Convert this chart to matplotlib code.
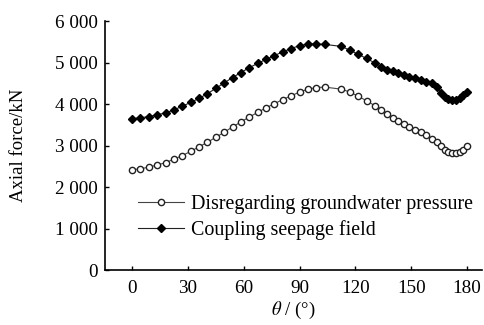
import matplotlib
matplotlib.use("Agg")
import matplotlib.pyplot as plt
from matplotlib.ticker import FuncFormatter

theta = [0, 4.5, 9, 13.5, 18, 22.5, 27, 31.5, 36, 40.5, 45, 49.5, 54, 58.5, 63, 67.5,
         72, 76.5, 81, 85.5, 90, 94.5, 99, 103.5, 112.5, 117, 121.5, 126, 130.5,
         134, 137, 140, 143, 146, 149, 152, 155, 158, 161, 164, 166, 168, 170,
         172, 174, 176, 178, 180]
coupling = [3650, 3670, 3700, 3740, 3790, 3860, 3950, 4040, 4140, 4250, 4380, 4510,
            4640, 4760, 4880, 4980, 5080, 5170, 5260, 5340, 5410, 5450, 5450, 5440,
            5390, 5300, 5200, 5100, 4990, 4900, 4830, 4790, 4750, 4700, 4660, 4620,
            4580, 4540, 4500, 4420, 4270, 4180, 4120, 4100, 4110, 4150, 4220, 4300]
disregard = [2420, 2440, 2480, 2530, 2590, 2670, 2760, 2860, 2970, 3080, 3200, 3320,
             3450, 3570, 3690, 3800, 3910, 4010, 4110, 4200, 4290, 4360, 4400, 4410,
             4360, 4290, 4190, 4080, 3960, 3860, 3750, 3660, 3590, 3520, 3450, 3380,
             3320, 3250, 3170, 3080, 2980, 2900, 2850, 2830, 2820, 2840, 2900, 2980]
labels = ["Disregarding groundwater pressure", "Coupling seepage field"]
xticks = [0, 30, 60, 90, 120, 150, 180]
yticks = [0, 1000, 2000, 3000, 4000, 5000, 6000]

plt.rcParams['font.family'] = ['Liberation Serif', 'DejaVu Serif']
plt.rcParams['mathtext.fontset'] = 'stix'

fig = plt.figure(figsize=(4.85, 3.25), dpi=100)
ax = fig.add_axes([0.2165, 0.169, 0.7773, 0.766])

ax.plot(theta, disregard, color='#444444', lw=0.8, marker='o', ms=4.5,
        mfc='white', mec='#222222', mew=1.0, label=labels[0])
ax.plot(theta, coupling, color='#222222', lw=0.8, marker='D', ms=4.3,
        mfc='black', mec='black', label=labels[1])

ax.set_xlim(-14.5, 188)
ax.set_ylim(0, 6000)
ax.set_xticks(xticks)
ax.set_yticks(yticks)
ax.yaxis.set_major_formatter(FuncFormatter(lambda v, p: f"{int(v):,}".replace(",", " ")))
ax.tick_params(direction='in', length=3, width=1, labelsize=13.8, colors='black')
ax.tick_params(axis='x', pad=7)
ax.tick_params(axis='y', pad=5)
ax.spines['top'].set_visible(False)
ax.spines['right'].set_visible(False)
for s in ax.spines.values():
    s.set_linewidth(1.2)

ax.set_ylabel("Axial force/kN", fontsize=13.5, labelpad=20)
ax.set_xlabel(r"$\theta$ / (°)", fontsize=13.5, labelpad=2)

ax.legend(loc='lower left', bbox_to_anchor=(0.065, 0.09), frameon=False,
          fontsize=14.4, handlelength=2.3, handletextpad=0.35, labelspacing=0.28,
          borderaxespad=0)

fig.savefig("out.png", dpi=100)
